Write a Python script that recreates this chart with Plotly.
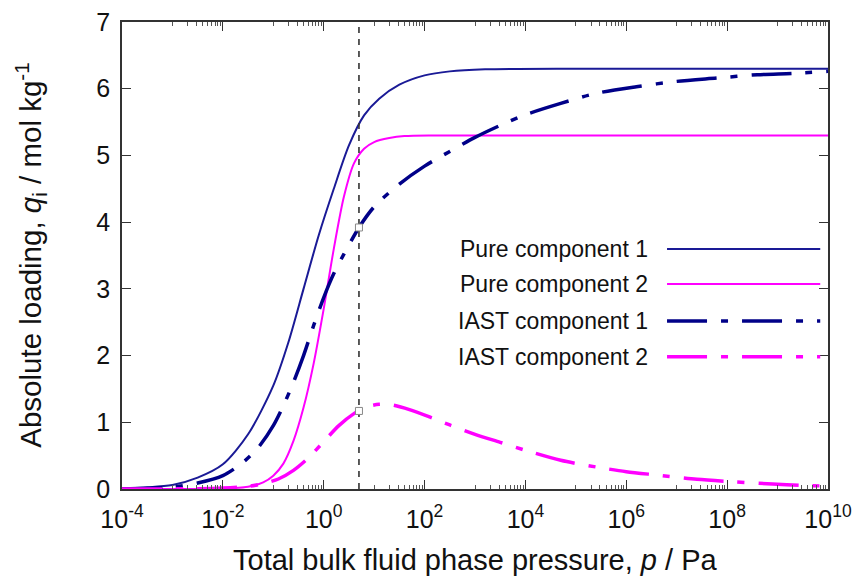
import plotly.graph_objects as go

# ---------------- data ----------------
# Pure component 1  (log10 p, loading q)
pure1_logp = [-4.0, -3.5, -3.0, -2.5, -2.0, -1.5, -1.0, -0.7, -0.4, -0.1, 0.2, 0.5, 0.8, 1.1, 1.5, 2.0, 2.5, 3.2, 5.0, 10.0]
pure1_q = [0.01, 0.025, 0.06, 0.17, 0.37, 0.82, 1.55, 2.2, 3.0, 3.8, 4.5, 5.15, 5.6, 5.85, 6.06, 6.2, 6.26, 6.29, 6.30, 6.30]

# Pure component 2
pure2_logp = [-4.0, -2.5, -2.0, -1.5, -1.2, -1.0, -0.8, -0.6, -0.4, -0.2, 0.0, 0.2, 0.4, 0.6, 0.8, 1.0, 1.3, 1.6, 2.2, 10.0]
pure2_q = [0.0, 0.001, 0.005, 0.035, 0.1, 0.2, 0.38, 0.72, 1.22, 1.88, 2.7, 3.6, 4.38, 4.88, 5.1, 5.2, 5.26, 5.29, 5.30, 5.30]

# IAST component 1
iast1_logp = [-4.0, -3.0, -2.5, -2.0, -1.6, -1.3, -1.0, -0.8, -0.6, -0.4, -0.2, 0.0, 0.2, 0.4, 0.7, 1.0,
              1.5, 2.0, 2.5, 3.0, 3.5, 4.0, 4.7, 5.4, 6.2, 7.0, 7.8, 8.6, 9.3, 10.0]
iast1_q = [0.0, 0.03, 0.09, 0.2, 0.4, 0.62, 0.95, 1.25, 1.6, 2.0, 2.45, 2.87, 3.23, 3.52, 3.92, 4.23,
           4.57, 4.84, 5.06, 5.27, 5.45, 5.61, 5.78, 5.93, 6.03, 6.11, 6.16, 6.21, 6.23, 6.26]

# IAST component 2
iast2_logp = [-4.0, -2.5, -2.0, -1.5, -1.2, -0.9, -0.6, -0.3, 0.0, 0.3, 0.6, 0.85, 1.1, 1.35, 1.7, 2.1,
              2.5, 3.0, 3.5, 4.0, 4.7, 5.4, 6.0, 6.6, 7.4, 8.1, 8.9, 9.5, 10.0]
iast2_q = [0.0, 0.005, 0.015, 0.04, 0.08, 0.15, 0.28, 0.47, 0.71, 0.95, 1.13, 1.23, 1.27, 1.26, 1.19, 1.08,
           0.96, 0.82, 0.70, 0.58, 0.43, 0.33, 0.26, 0.21, 0.145, 0.11, 0.075, 0.055, 0.043]

# Marked pressure and the IAST loadings there
p_mark = 5.0
q_mark = [3.92, 1.17]
y_range = [0, 7]

# Axis ticks
x_tick_exp = [-4, -2, 0, 2, 4, 6, 8, 10]
y_ticks = [0, 1, 2, 3, 4, 5, 6, 7]
legend_names = ["Pure component 1", "Pure component 2", "IAST component 1", "IAST component 2"]

# ---------------- styles ----------------
BLUE = "#1a1a96"
DBLUE = "#000088"
MAG = "#ff00ff"
FONT = "Liberation Sans, Arial, sans-serif"
DASHDOT = "40px,14px,7px,14px"


def to_p(logs):
    return [10 ** v for v in logs]


fig = go.Figure()
fig.add_trace(go.Scatter(x=to_p(pure1_logp), y=pure1_q, mode="lines",
                         line=dict(color=BLUE, width=2, shape="spline", smoothing=0.8)))
fig.add_trace(go.Scatter(x=to_p(pure2_logp), y=pure2_q, mode="lines",
                         line=dict(color=MAG, width=2, shape="spline", smoothing=0.8)))
fig.add_trace(go.Scatter(x=to_p(iast1_logp), y=iast1_q, mode="lines",
                         line=dict(color=DBLUE, width=3.5, dash=DASHDOT, shape="spline", smoothing=0.8)))
fig.add_trace(go.Scatter(x=to_p(iast2_logp), y=iast2_q, mode="lines",
                         line=dict(color=MAG, width=3.5, dash=DASHDOT, shape="spline", smoothing=0.8)))
# vertical dashed line at the marked pressure
fig.add_trace(go.Scatter(x=[p_mark, p_mark], y=y_range, mode="lines",
                         line=dict(color="#333333", width=1.6, dash="6px,6px")))
# markers
fig.add_trace(go.Scatter(x=[p_mark] * len(q_mark), y=q_mark, mode="markers",
                         marker=dict(symbol="square", size=7, color="white",
                                     line=dict(color="#888888", width=1))))

# minor ticks: 10,20,...,90 x each labelled major (gnuplot style)
minor_vals = []
for e in x_tick_exp[:-1]:
    for m in range(1, 10):
        minor_vals.append(m * 10 ** (e + 1))

fig.update_xaxes(type="log", range=[-4, 10], automargin=False,
                 tickmode="array", tickvals=[10 ** e for e in x_tick_exp],
                 ticktext=["10<sup>%d</sup>" % e for e in x_tick_exp],
                 ticks="inside", ticklen=9, tickwidth=1, tickcolor="#333333",
                 ticklabelstandoff=7,
                 minor=dict(tickmode="array", tickvals=minor_vals, ticks="inside",
                            ticklen=4, tickwidth=1, tickcolor="#555555", showgrid=False),
                 showline=True, linecolor="#333333", linewidth=1.5, mirror="ticks",
                 showgrid=False, zeroline=False,
                 tickfont=dict(family=FONT, size=25, color="#111111"))
fig.update_yaxes(range=y_range, tickmode="array", tickvals=y_ticks, automargin=False,
                 ticks="inside", ticklen=9, tickwidth=1, tickcolor="#333333",
                 ticklabelstandoff=5,
                 showline=True, linecolor="#333333", linewidth=1.5, mirror="ticks",
                 showgrid=False, zeroline=False,
                 tickfont=dict(family=FONT, size=25, color="#111111"))

annotations = [
    dict(text="Total bulk fluid phase pressure, <i>p</i> / Pa", xref="paper", yref="paper",
         x=0.5, y=-0.152, xanchor="center", yanchor="middle", showarrow=False,
         font=dict(family=FONT, size=29, color="#111111")),
    dict(text="Absolute loading, <i>q</i><sub>i</sub> / mol kg<sup>-1</sup>", xref="paper", yref="paper",
         x=-0.130, y=0.5, xanchor="center", yanchor="middle", textangle=-90, showarrow=False,
         font=dict(family=FONT, size=29.5, color="#111111")),
]

# manual gnuplot-style legend (text right, sample line to its right)
leg_rows = [0.514, 0.439, 0.360, 0.283]
leg_styles = [(BLUE, 2, "solid"), (MAG, 2, "solid"), (DBLUE, 3.5, DASHDOT), (MAG, 3.5, DASHDOT)]
shapes = []
for name, yy, (col, w, d) in zip(legend_names, leg_rows, leg_styles):
    annotations.append(dict(text=name, xref="paper", yref="paper", x=0.748, y=yy,
                            xanchor="right", yanchor="middle", showarrow=False,
                            font=dict(family=FONT, size=23, color="#111111")))
    shapes.append(dict(type="line", xref="paper", yref="paper", x0=0.772, x1=0.989, y0=yy, y1=yy,
                       line=dict(color=col, width=w, dash=d)))

fig.update_layout(width=856, height=576, margin=dict(l=122, r=28, t=22, b=87),
                  paper_bgcolor="white", plot_bgcolor="white", showlegend=False,
                  annotations=annotations, shapes=shapes)

fig.write_html("out.html")
